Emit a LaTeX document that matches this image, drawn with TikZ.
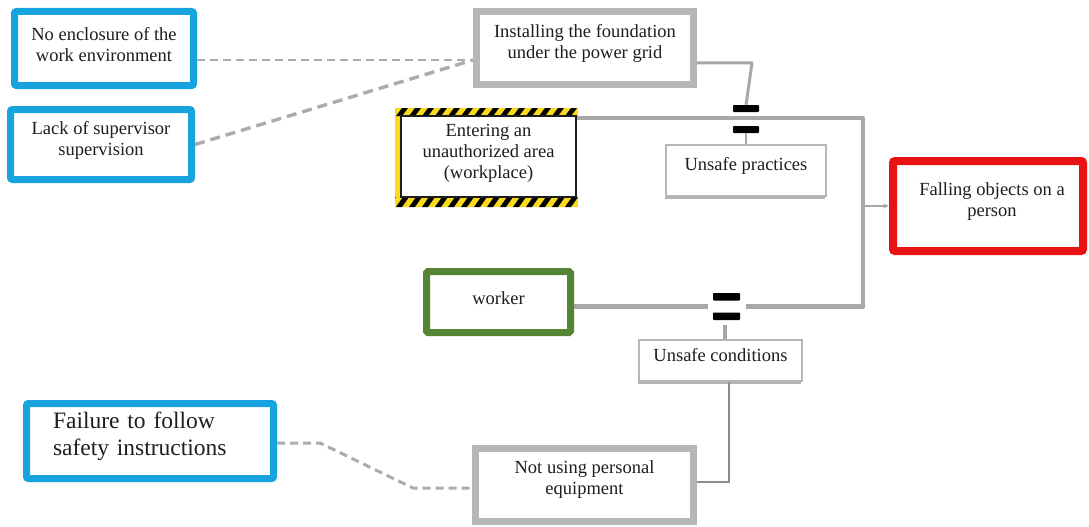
\documentclass[tikz,border=0pt]{standalone}
\usepackage{fontspec}
\setmainfont{Liberation Serif}
\usetikzlibrary{arrows.meta,shadows,calc}

\definecolor{causeblue}{RGB}{22,163,224}
\definecolor{workergreen}{RGB}{84,132,52}
\definecolor{eventred}{RGB}{232,18,18}
\definecolor{framegray}{RGB}{182,182,182}
\definecolor{linegray}{RGB}{168,168,168}
\definecolor{dashgray}{RGB}{172,172,172}
\definecolor{thingray}{RGB}{140,140,140}
\definecolor{hazyellow}{RGB}{250,218,28}
\definecolor{inkgray}{RGB}{30,30,30}

\tikzset{
  boxtext/.style={inner sep=0pt, align=center, text=inkgray,
    font=\fontsize{18.5}{21}\selectfont},
  basebox/.style={rectangle, inner sep=0pt, fill=white},
  bluebox/.style={basebox, draw=causeblue, line width=7pt, rounded corners=2pt},
  graybox/.style={basebox, draw=framegray, line width=7pt},
  greenbox/.style={basebox, draw=workergreen, line width=7pt, rounded corners=1.5pt},
  redbox/.style={basebox, draw=eventred, line width=8pt, rounded corners=2pt},
  thinbox/.style={basebox, draw=framegray, line width=1.5pt,
    drop shadow={shadow xshift=-1.5pt, shadow yshift=-2.5pt, fill=black!55, opacity=0.55}},
  hazardbox/.style={basebox, draw=inkgray, line width=2pt},
  eqsign/.style={rectangle, inner sep=0pt},
  eqbar/.style={fill=black, rounded corners=0.8pt},
  mainline/.style={draw=linegray, line width=4.8pt, line join=round},
  linkline/.style={draw=linegray, line width=3pt, line join=round},
  thinline/.style={draw=thingray, line width=2pt},
  dashline/.style={draw=dashgray, line width=2.6pt, dash pattern=on 8pt off 5pt},
}

\begin{document}
\begin{tikzpicture}[x=1pt, y=-1pt]
\useasboundingbox (0,0) rectangle (1089,527);
\fill[white] (0,0) rectangle (1089,527);

% hazard tape around the "entering" box
\fill[hazyellow] (395,108) rectangle (401,207);
\begin{scope}
  \clip (395,108) rectangle (578,116);
  \fill[hazyellow] (395,108) rectangle (578,116);
  \foreach \x in {383,396,...,590}
    \fill[black] (\x,116) -- ++(6,0) -- ++(6,-8) -- ++(-6,0) -- cycle;
\end{scope}
\begin{scope}
  \clip (395,197) rectangle (578,207);
  \fill[hazyellow] (395,197) rectangle (578,207);
  \foreach \x in {383,396,...,590}
    \fill[black] (\x,207) -- ++(6,0) -- ++(7,-10) -- ++(-6,0) -- cycle;
\end{scope}

% boxes, with their captions set slightly above centre
\node[bluebox, minimum width=179pt, minimum height=74pt,
  label={[boxtext, yshift=3.5pt]center:{No enclosure of the\\work environment}}]
  (noenc) at (104,48.5) {};
\node[bluebox, minimum width=181pt, minimum height=70pt,
  label={[boxtext, yshift=4.5pt]center:{Lack of supervisor\\supervision}}]
  (lack) at (101,144.5) {};
\node[graybox, minimum width=217pt, minimum height=73pt,
  label={[boxtext, yshift=5pt]center:{Installing the foundation\\under the power grid}}]
  (install) at (585,48) {};
\node[hazardbox, minimum width=175pt, minimum height=81pt,
  label={[boxtext, yshift=3.5pt]center:{Entering an\\unauthorized area\\(workplace)}}]
  (entering) at (488.5,156.5) {};
\node[thinbox, minimum width=160pt, minimum height=51pt,
  label={[boxtext, yshift=5pt]center:{Unsafe practices}}]
  (practices) at (746,170.5) {};
\node[redbox, minimum width=190pt, minimum height=90pt,
  label={[boxtext, yshift=4pt, xshift=4pt]center:{Falling objects on a\\person}}]
  (falling) at (988,206) {};
\node[greenbox, minimum width=144pt, minimum height=61pt,
  label={[boxtext, yshift=4pt]center:{worker}}]
  (worker) at (498.5,302) {};
\node[thinbox, minimum width=163pt, minimum height=41pt,
  label={[boxtext, yshift=5pt]center:{Unsafe conditions}}]
  (conditions) at (720.5,360.5) {};
\node[bluebox, minimum width=247pt, minimum height=75pt,
  label={[boxtext, yshift=5pt, text width=194pt, align=left,
    font=\fontsize{23.5}{27}\selectfont]center:{Failure to follow\\safety instructions}}]
  (failure) at (150,441) {};
\node[graybox, minimum width=218pt, minimum height=73pt,
  label={[boxtext, yshift=5.5pt]center:{Not using personal\\equipment}}]
  (notusing) at (584.5,485) {};

% corners of the main path
\coordinate (tr) at (863,118);
\coordinate (br) at (863,306.5);

% main path: entering -> event <- worker
\draw[mainline] (entering.north east |- tr) -- (tr) -- (br) -- (worker.east |- br);
\draw[draw=linegray, line width=1.5pt, -{Stealth[length=6pt,width=5pt]}]
  (tr |- falling.west) -- (falling.west);

% AND junctions
\node[eqsign, minimum width=26pt, minimum height=28pt] (eqA) at (746,119) {};
\fill[eqbar] ($(eqA.center)+(-13,-14)$) rectangle ++(26,7);
\fill[eqbar] ($(eqA.center)+(-13,14)$) rectangle ++(26,-7);
\node[eqsign, fill=white, minimum width=38pt, minimum height=36pt] (eqB) at (726.5,306.5) {};
\fill[eqbar] ($(eqB.center)+(-13.5,-13.5)$) rectangle ++(27,7.5);
\fill[eqbar] ($(eqB.center)+(-13.5,13.5)$) rectangle ++(27,-7.5);

% links from the contributing factors
\coordinate (ia) at (752,63);
\draw[linkline] (install.east |- ia) -- (ia) -- (eqA.north);
\draw[linkline, line width=2pt] (eqA.south) -- (eqA.south |- practices.north);
\draw[linkline, line width=4pt] ([xshift=-2pt]eqB.south) -- ([xshift=-2pt]eqB.south |- conditions.north);
\coordinate (cb) at (729,482);
\draw[thinline] (conditions.south -| cb) -- (cb) -- (notusing.east |- cb);

% dashed root-cause links
\coordinate (ij) at (473,60);
\draw[dashline] (noenc.east |- ij) -- (install.west |- ij);
\draw[dashline, line width=3.4pt, dash pattern=on 10pt off 6pt] (lack.east) -- (install.west |- ij);
\coordinate (f1) at (320,443);
\coordinate (f2) at (413,488);
\draw[dashline, line width=3pt] (failure.east |- f1) -- (f1) -- (f2) -- (notusing.west |- f2);

\end{tikzpicture}
\end{document}
